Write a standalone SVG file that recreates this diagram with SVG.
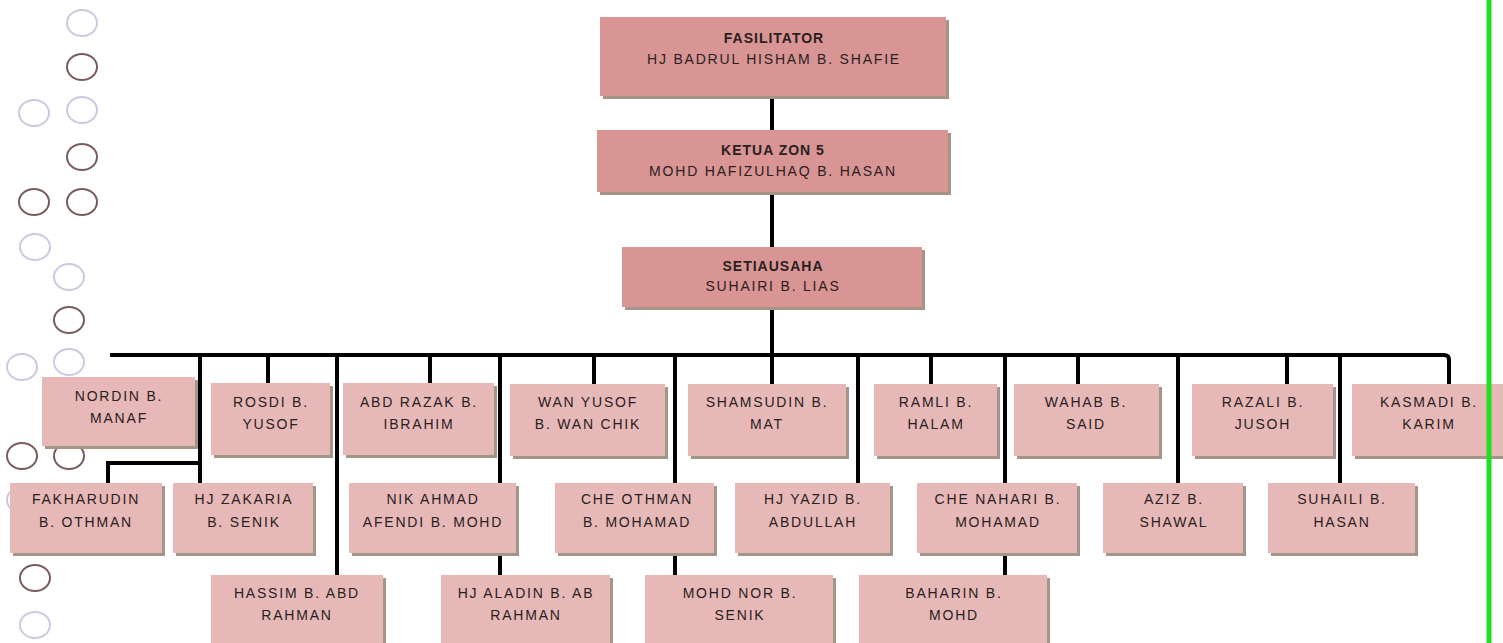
<svg xmlns="http://www.w3.org/2000/svg" width="1503" height="643" viewBox="0 0 1503 643">
<style>
.bg{fill:#ffffff}
.sh{fill:#a39688}
.top{fill:#d99594}
.box{fill:#e6b9b8}
.t{font-family:"Liberation Sans",Arial,sans-serif;font-size:14px;letter-spacing:1.8px;fill:#2a2020;text-anchor:middle}
.b{font-weight:bold;letter-spacing:1px}
.c{fill:none;stroke:#000;stroke-width:4}
.cl{fill:none;stroke:#cfc8e3;stroke-width:2}
.cd{fill:none;stroke:#7a5c5c;stroke-width:2}
</style>
<rect class="bg" width="1503" height="643"/>
<g id="decor">
<ellipse class="cl" cx="82" cy="23" rx="15" ry="13"/>
<ellipse class="cd" cx="82" cy="67" rx="15" ry="13"/>
<ellipse class="cl" cx="34" cy="113" rx="15" ry="13"/>
<ellipse class="cl" cx="82" cy="110" rx="15" ry="13"/>
<ellipse class="cd" cx="82" cy="157" rx="15" ry="13"/>
<ellipse class="cd" cx="34" cy="202" rx="15" ry="13"/>
<ellipse class="cd" cx="82" cy="202" rx="15" ry="13"/>
<ellipse class="cl" cx="35" cy="247" rx="15" ry="13"/>
<ellipse class="cl" cx="69" cy="277" rx="15" ry="13"/>
<ellipse class="cd" cx="69" cy="320" rx="15" ry="13"/>
<ellipse class="cl" cx="22" cy="367" rx="15" ry="13"/>
<ellipse class="cl" cx="69" cy="362" rx="15" ry="13"/>
<ellipse class="cd" cx="22" cy="456" rx="15" ry="13"/>
<ellipse class="cd" cx="69" cy="456" rx="15" ry="13"/>
<ellipse class="cl" cx="22" cy="500" rx="15" ry="13"/>
<ellipse class="cd" cx="35" cy="578" rx="15" ry="13"/>
<ellipse class="cl" cx="35" cy="625" rx="15" ry="13"/>
</g>
<g id="connectors">
<path class="c" d="M772 96V130M772 192V247M772 307V355"/>
<path class="c" d="M110 355H1444Q1449 355 1449 360V384"/>
<path class="c" d="M268 355V383M430 355V383M594 355V384M772 355V384M931 355V384M1078 355V384M1287 355V384"/>
<path class="c" d="M200 355V483M200 463H108V483"/>
<path class="c" d="M337 355V575"/>
<path class="c" d="M500 355V483M500 553V575"/>
<path class="c" d="M675 355V483M675 553V575"/>
<path class="c" d="M858 355V483"/>
<path class="c" d="M1005 355V483M1005 553V575"/>
<path class="c" d="M1178 355V483"/>
<path class="c" d="M1340 355V483"/>
</g>
<g id="n-fasilitator"><rect class="sh" x="603" y="20" width="346" height="79"/><rect class="top" x="600" y="17" width="346" height="79"/><text class="t b" x="774" y="43">FASILITATOR</text><text class="t" x="774" y="64">HJ BADRUL HISHAM B. SHAFIE</text></g>
<g id="n-ketua"><rect class="sh" x="600" y="133" width="351" height="62"/><rect class="top" x="597" y="130" width="351" height="62"/><text class="t b" x="773" y="155">KETUA ZON 5</text><text class="t" x="773" y="176">MOHD HAFIZULHAQ B. HASAN</text></g>
<g id="n-setiausaha"><rect class="sh" x="625" y="250" width="300" height="60"/><rect class="top" x="622" y="247" width="300" height="60"/><text class="t b" x="773" y="271">SETIAUSAHA</text><text class="t" x="773" y="291">SUHAIRI B. LIAS</text></g>

<g id="n-nordin"><rect class="sh" x="45" y="380" width="153" height="69"/><rect class="box" x="42" y="377" width="153" height="69"/><text class="t" x="119" y="401">NORDIN B.</text><text class="t" x="119" y="423">MANAF</text></g>
<g id="n-rosdi"><rect class="sh" x="214" y="386" width="119" height="72"/><rect class="box" x="211" y="383" width="119" height="72"/><text class="t" x="271" y="407">ROSDI B.</text><text class="t" x="271" y="429">YUSOF</text></g>
<g id="n-abdrazak"><rect class="sh" x="346" y="386" width="151" height="72"/><rect class="box" x="343" y="383" width="151" height="72"/><text class="t" x="419" y="407">ABD RAZAK B.</text><text class="t" x="419" y="429">IBRAHIM</text></g>
<g id="n-wanyusof"><rect class="sh" x="513" y="387" width="155" height="72"/><rect class="box" x="510" y="384" width="155" height="72"/><text class="t" x="588" y="407">WAN YUSOF</text><text class="t" x="588" y="429">B. WAN CHIK</text></g>
<g id="n-shamsudin"><rect class="sh" x="691" y="387" width="158" height="72"/><rect class="box" x="688" y="384" width="158" height="72"/><text class="t" x="767" y="407">SHAMSUDIN B.</text><text class="t" x="767" y="429">MAT</text></g>
<g id="n-ramli"><rect class="sh" x="877" y="387" width="123" height="72"/><rect class="box" x="874" y="384" width="123" height="72"/><text class="t" x="936" y="407">RAMLI B.</text><text class="t" x="936" y="429">HALAM</text></g>
<g id="n-wahab"><rect class="sh" x="1017" y="387" width="145" height="72"/><rect class="box" x="1014" y="384" width="145" height="72"/><text class="t" x="1086" y="407">WAHAB B.</text><text class="t" x="1086" y="429">SAID</text></g>
<g id="n-razali"><rect class="sh" x="1195" y="387" width="141" height="72"/><rect class="box" x="1192" y="384" width="141" height="72"/><text class="t" x="1263" y="407">RAZALI B.</text><text class="t" x="1263" y="429">JUSOH</text></g>
<g id="n-kasmadi"><rect class="sh" x="1355" y="387" width="151" height="72"/><rect class="box" x="1352" y="384" width="151" height="72"/><text class="t" x="1429" y="407">KASMADI B.</text><text class="t" x="1429" y="429">KARIM</text></g>

<g id="n-fakharudin"><rect class="sh" x="13" y="486" width="152" height="70"/><rect class="box" x="10" y="483" width="152" height="70"/><text class="t" x="86" y="504">FAKHARUDIN</text><text class="t" x="86" y="527">B. OTHMAN</text></g>
<g id="n-zakaria"><rect class="sh" x="176" y="486" width="140" height="70"/><rect class="box" x="173" y="483" width="140" height="70"/><text class="t" x="244" y="504">HJ ZAKARIA</text><text class="t" x="244" y="527">B. SENIK</text></g>
<g id="n-nikahmad"><rect class="sh" x="352" y="486" width="167" height="70"/><rect class="box" x="349" y="483" width="167" height="70"/><text class="t" x="433" y="504">NIK AHMAD</text><text class="t" x="433" y="527">AFENDI B. MOHD</text></g>
<g id="n-cheothman"><rect class="sh" x="558" y="486" width="159" height="70"/><rect class="box" x="555" y="483" width="159" height="70"/><text class="t" x="637" y="504">CHE OTHMAN</text><text class="t" x="637" y="527">B. MOHAMAD</text></g>
<g id="n-yazid"><rect class="sh" x="738" y="486" width="155" height="70"/><rect class="box" x="735" y="483" width="155" height="70"/><text class="t" x="813" y="504">HJ YAZID B.</text><text class="t" x="813" y="527">ABDULLAH</text></g>
<g id="n-chenahari"><rect class="sh" x="920" y="486" width="160" height="70"/><rect class="box" x="917" y="483" width="160" height="70"/><text class="t" x="998" y="504">CHE NAHARI B.</text><text class="t" x="998" y="527">MOHAMAD</text></g>
<g id="n-aziz"><rect class="sh" x="1106" y="486" width="140" height="70"/><rect class="box" x="1103" y="483" width="140" height="70"/><text class="t" x="1174" y="504">AZIZ B.</text><text class="t" x="1174" y="527">SHAWAL</text></g>
<g id="n-suhaili"><rect class="sh" x="1271" y="486" width="147" height="70"/><rect class="box" x="1268" y="483" width="147" height="70"/><text class="t" x="1342" y="504">SUHAILI B.</text><text class="t" x="1342" y="527">HASAN</text></g>

<g id="n-hassim"><rect class="sh" x="214" y="578" width="172" height="68"/><rect class="box" x="211" y="575" width="172" height="68"/><text class="t" x="297" y="598">HASSIM B. ABD</text><text class="t" x="297" y="620">RAHMAN</text></g>
<g id="n-aladin"><rect class="sh" x="444" y="578" width="169" height="68"/><rect class="box" x="441" y="575" width="169" height="68"/><text class="t" x="526" y="598">HJ ALADIN B. AB</text><text class="t" x="526" y="620">RAHMAN</text></g>
<g id="n-mohdnor"><rect class="sh" x="648" y="578" width="188" height="68"/><rect class="box" x="645" y="575" width="188" height="68"/><text class="t" x="740" y="598">MOHD NOR B.</text><text class="t" x="740" y="620">SENIK</text></g>
<g id="n-baharin"><rect class="sh" x="862" y="578" width="188" height="68"/><rect class="box" x="859" y="575" width="188" height="68"/><text class="t" x="954" y="598">BAHARIN B.</text><text class="t" x="954" y="620">MOHD</text></g>

<line x1="1489" y1="0" x2="1489" y2="643" stroke="#1ee01e" stroke-width="5"/>
</svg>
